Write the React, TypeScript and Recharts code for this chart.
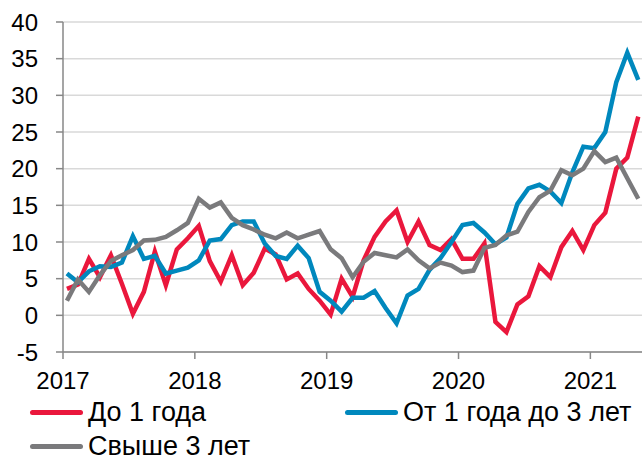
import React from 'react';
import { LineChart, Line, XAxis, YAxis, CartesianGrid, Legend } from 'recharts';

// monthly values, Jan 2017 .. May 2021
const upTo1Year = [
  3.6, 4.2, 7.7, 5.2, 8.2, 4.3, 0.2, 3.2, 8.7, 4.1, 9.0, 10.5,
  12.2, 7.4, 4.6, 8.2, 4.1, 5.8, 9.1, 8.3, 4.9, 5.7, 3.6, 2.0,
  0.1, 5.0, 2.5, 7.5, 10.7, 12.8, 14.3, 10.0, 12.8, 9.6, 8.9, 10.4,
  7.7, 7.7, 9.8, -0.9, -2.3, 1.5, 2.6, 6.7, 5.2, 9.3, 11.5, 8.9,
  12.3, 14.0, 20.0, 21.5, 27.1,
];
const from1To3Years = [
  5.7, 4.5, 6.0, 6.7, 6.6, 7.2, 10.8, 7.7, 8.1, 5.7, 6.1, 6.5,
  7.5, 10.2, 10.4, 12.3, 12.8, 12.8, 9.8, 8.1, 7.7, 9.5, 7.8, 3.2,
  2.0, 0.5, 2.4, 2.4, 3.3, 1.0, -1.1, 2.7, 3.6, 6.2, 7.8, 10.0,
  12.3, 12.6, 11.3, 9.7, 10.6, 15.2, 17.3, 17.8, 16.9, 15.3, 19.5, 23.0,
  22.8, 25.0, 31.8, 35.8, 32.1,
];
const over3Years = [
  2.0, 4.9, 3.2, 5.5, 7.4, 8.2, 8.9, 10.2, 10.3, 10.7, 11.6, 12.6,
  15.9, 14.7, 15.4, 13.3, 12.3, 11.7, 11.0, 10.5, 11.3, 10.5, 11.0, 11.5,
  9.0, 7.8, 5.2, 7.3, 8.5, 8.2, 7.9, 9.0, 7.5, 6.4, 7.2, 6.8,
  5.9, 6.1, 9.2, 9.6, 10.9, 11.4, 14.1, 16.1, 17.0, 19.8, 19.1, 20.0,
  22.4, 20.9, 21.5, 18.7, 15.9,
];

const firstYear = 2017;
const yearTicks = [0, 12, 24, 36, 48];
const valueTicks = [-5, 0, 5, 10, 15, 20, 25, 30, 35, 40];
const seriesNames = ['До 1 года', 'От 1 года до 3 лет', 'Свыше 3 лет'];

const RED = '#EA173C';
const BLUE = '#0088BD';
const GRAY = '#7A7A7C';
const FONT = '"Liberation Sans", Arial, sans-serif';

const data = upTo1Year.map((v, i) => ({
  m: i + 0.36,
  short: v,
  mid: from1To3Years[i],
  long: over3Years[i],
}));

const legendItems = [
  { name: seriesNames[0], color: RED, left: 30, top: 0 },
  { name: seriesNames[1], color: BLUE, left: 345, top: 0 },
  { name: seriesNames[2], color: GRAY, left: 30, top: 34 },
];

const renderLegend = () => (
  <div style={{ position: 'relative', width: 644, height: 62, fontFamily: FONT }}>
    {legendItems.map((it) => (
      <div
        key={it.name}
        style={{
          position: 'absolute',
          left: it.left,
          top: it.top,
          display: 'flex',
          alignItems: 'center',
          height: 28,
          fontSize: 27,
          color: '#000',
          whiteSpace: 'nowrap',
        }}
      >
        <span
          style={{
            display: 'inline-block',
            width: 53,
            height: 5,
            borderRadius: 3,
            background: it.color,
            marginRight: 5,
          }}
        />
        {it.name}
      </div>
    ))}
  </div>
);

const App: React.FC = () => {
  return (
    <div style={{ position: 'absolute', left: 0, top: 0, width: 644, height: 459, background: '#fff' }}>
      <LineChart
        width={644}
        height={459}
        data={data}
        margin={{ top: 22, right: 2, bottom: 0, left: 0 }}
      >
        <CartesianGrid vertical={false} stroke="#D9D9D9" strokeWidth={1.5} />
        <XAxis
          type="number"
          dataKey="m"
          domain={[0, 52.7]}
          ticks={yearTicks}
          tickFormatter={(v: number) => String(firstYear + v / 12)}
          allowDataOverflow
          height={107}
          stroke="#878787"
          strokeWidth={1.5}
          tickSize={7}
          tickMargin={13}
          tick={{ fill: '#000', fontSize: 24, fontFamily: FONT }}
        />
        <YAxis
          type="number"
          domain={[-5, 40]}
          ticks={valueTicks}
          interval={0}
          width={63}
          stroke="#878787"
          strokeWidth={1.5}
          tickSize={7}
          tickMargin={18}
          tick={{ fill: '#000', fontSize: 24, fontFamily: FONT }}
        />
        <Legend
          layout="horizontal"
          verticalAlign="middle"
          align="center"
          wrapperStyle={{ left: 0, top: 398, width: 644 }}
          content={renderLegend}
        />
        <Line type="linear" dataKey="short" name={seriesNames[0]} stroke={RED} strokeWidth={4.5} dot={false} isAnimationActive={false} />
        <Line type="linear" dataKey="mid" name={seriesNames[1]} stroke={BLUE} strokeWidth={4.5} dot={false} isAnimationActive={false} />
        <Line type="linear" dataKey="long" name={seriesNames[2]} stroke={GRAY} strokeWidth={4.5} dot={false} isAnimationActive={false} />
      </LineChart>
    </div>
  );
};

export default App;
